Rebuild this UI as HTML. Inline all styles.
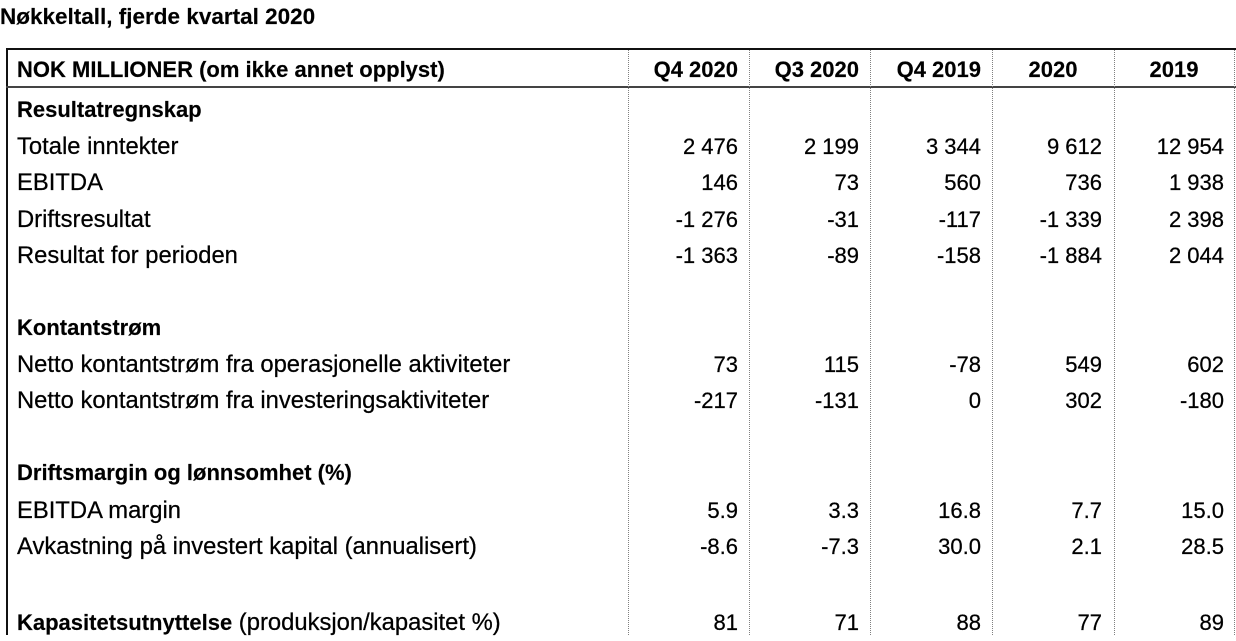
<!DOCTYPE html>
<html>
<head>
<meta charset="utf-8">
<style>
  html, body { margin:0; padding:0; background:#fff; }
  body { width:1236px; height:635px; overflow:hidden; position:relative;
         font-family:"Liberation Sans", Arial, sans-serif; color:#000; }
  .t { position:absolute; height:36px; line-height:36px; white-space:nowrap; -webkit-text-stroke:0.25px #000; }
  .lab { left:17px; font-size:23.8px; }
  .b { font-weight:bold; font-size:22px; -webkit-text-stroke:0.15px #000; }
  .n { font-size:22px; text-align:right; width:110px; }
  .h { font-weight:bold; font-size:22px; -webkit-text-stroke:0.15px #000; }
  .line { position:absolute; }
  .vd { position:absolute; top:50px; height:585px; width:0; border-left:1px dotted #808080; }
</style>
</head>
<body>
  <!-- title -->
  <div class="t b" style="left:0; top:-1px; font-size:22.5px;">Nøkkeltall, fjerde kvartal 2020</div>

  <!-- borders -->
  <div class="line" style="left:6px; top:48px; width:1230px; height:2px; background:#111;"></div>
  <div class="line" style="left:6px; top:48px; width:2px; height:587px; background:#111;"></div>
  <div class="line" style="left:6px; top:86px; width:1230px; height:2px; background:#444;"></div>

  <div class="vd" style="left:628px;"></div>
  <div class="vd" style="left:749px;"></div>
  <div class="vd" style="left:870px;"></div>
  <div class="vd" style="left:992px;"></div>
  <div class="vd" style="left:1114px;"></div>
  <div class="vd" style="left:1234px;"></div>

  <!-- header -->
  <div class="t h" style="left:17px; top:52px;">NOK MILLIONER (om ikke annet opplyst)</div>
  <div class="t h" style="left:628px; width:110px; text-align:right; top:52px;">Q4 2020</div>
  <div class="t h" style="left:749px; width:110px; text-align:right; top:52px;">Q3 2020</div>
  <div class="t h" style="left:870px; width:111px; text-align:right; top:52px;">Q4 2019</div>
  <div class="t h" style="left:992px; width:122px; text-align:center; top:52px;">2020</div>
  <div class="t h" style="left:1114px; width:120px; text-align:center; top:52px;">2019</div>

  <!-- Resultatregnskap -->
  <div class="t lab b" style="top:92px;">Resultatregnskap</div>

  <div class="t lab" style="top:129px;">Totale inntekter</div>
  <div class="t n" style="left:628px; top:129px;">2 476</div>
  <div class="t n" style="left:749px; top:129px;">2 199</div>
  <div class="t n" style="left:871px; top:129px;">3 344</div>
  <div class="t n" style="left:992px; top:129px;">9 612</div>
  <div class="t n" style="left:1114px; top:129px;">12 954</div>

  <div class="t lab" style="top:165px;">EBITDA</div>
  <div class="t n" style="left:628px; top:165px;">146</div>
  <div class="t n" style="left:749px; top:165px;">73</div>
  <div class="t n" style="left:871px; top:165px;">560</div>
  <div class="t n" style="left:992px; top:165px;">736</div>
  <div class="t n" style="left:1114px; top:165px;">1 938</div>

  <div class="t lab" style="top:202px;">Driftsresultat</div>
  <div class="t n" style="left:628px; top:202px;">-1 276</div>
  <div class="t n" style="left:749px; top:202px;">-31</div>
  <div class="t n" style="left:871px; top:202px;">-117</div>
  <div class="t n" style="left:992px; top:202px;">-1 339</div>
  <div class="t n" style="left:1114px; top:202px;">2 398</div>

  <div class="t lab" style="top:238px;">Resultat for perioden</div>
  <div class="t n" style="left:628px; top:238px;">-1 363</div>
  <div class="t n" style="left:749px; top:238px;">-89</div>
  <div class="t n" style="left:871px; top:238px;">-158</div>
  <div class="t n" style="left:992px; top:238px;">-1 884</div>
  <div class="t n" style="left:1114px; top:238px;">2 044</div>

  <!-- Kontantstrøm -->
  <div class="t lab b" style="top:310px;">Kontantstrøm</div>

  <div class="t lab" style="top:347px;">Netto kontantstrøm fra operasjonelle aktiviteter</div>
  <div class="t n" style="left:628px; top:347px;">73</div>
  <div class="t n" style="left:749px; top:347px;">115</div>
  <div class="t n" style="left:871px; top:347px;">-78</div>
  <div class="t n" style="left:992px; top:347px;">549</div>
  <div class="t n" style="left:1114px; top:347px;">602</div>

  <div class="t lab" style="top:383px;">Netto kontantstrøm fra investeringsaktiviteter</div>
  <div class="t n" style="left:628px; top:383px;">-217</div>
  <div class="t n" style="left:749px; top:383px;">-131</div>
  <div class="t n" style="left:871px; top:383px;">0</div>
  <div class="t n" style="left:992px; top:383px;">302</div>
  <div class="t n" style="left:1114px; top:383px;">-180</div>

  <!-- Driftsmargin -->
  <div class="t lab b" style="top:455px;">Driftsmargin og lønnsomhet (%)</div>

  <div class="t lab" style="top:493px;">EBITDA margin</div>
  <div class="t n" style="left:628px; top:493px;">5.9</div>
  <div class="t n" style="left:749px; top:493px;">3.3</div>
  <div class="t n" style="left:871px; top:493px;">16.8</div>
  <div class="t n" style="left:992px; top:493px;">7.7</div>
  <div class="t n" style="left:1114px; top:493px;">15.0</div>

  <div class="t lab" style="top:529px;">Avkastning på investert kapital (annualisert)</div>
  <div class="t n" style="left:628px; top:529px;">-8.6</div>
  <div class="t n" style="left:749px; top:529px;">-7.3</div>
  <div class="t n" style="left:871px; top:529px;">30.0</div>
  <div class="t n" style="left:992px; top:529px;">2.1</div>
  <div class="t n" style="left:1114px; top:529px;">28.5</div>

  <!-- Kapasitet -->
  <div class="t lab" style="top:605px;"><span style="font-weight:bold; font-size:22px; -webkit-text-stroke:0.15px #000;">Kapasitetsutnyttelse</span> (produksjon/kapasitet %)</div>
  <div class="t n" style="left:628px; top:605px;">81</div>
  <div class="t n" style="left:749px; top:605px;">71</div>
  <div class="t n" style="left:871px; top:605px;">88</div>
  <div class="t n" style="left:992px; top:605px;">77</div>
  <div class="t n" style="left:1114px; top:605px;">89</div>
</body>
</html>
